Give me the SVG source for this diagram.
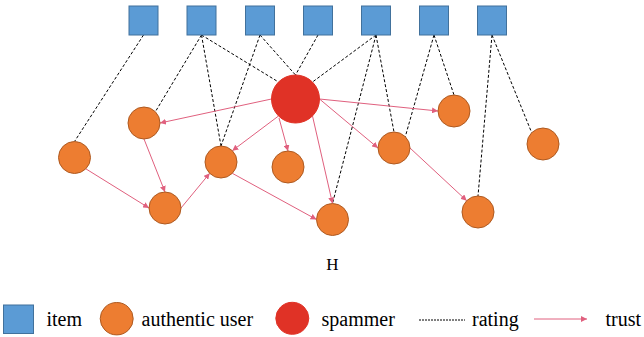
<svg xmlns="http://www.w3.org/2000/svg" width="644" height="337" viewBox="0 0 644 337">
<style>
.item{fill:#5b9bd5;stroke:#41719c;stroke-width:1}
.user{fill:#ed7d31;stroke:#ae5a21;stroke-width:1}
.spam{fill:#e03226;stroke:#e03226;stroke-width:1}
.rating{stroke:#000;stroke-width:1;stroke-dasharray:3 2;fill:none}
.trust{stroke:#e0607e;stroke-width:1;fill:none;marker-end:url(#ah)}
.lbl{font-family:"Liberation Serif","Times New Roman",serif;font-size:20px;fill:#000}
</style>
<defs>
<marker id="ah" markerWidth="7" markerHeight="6" refX="6" refY="3" orient="auto" markerUnits="userSpaceOnUse">
<path d="M0,0 L6,3 L0,6 Z" fill="#e0607e"/>
</marker>
</defs>
<g id="connectors">
<line class="rating" x1="143.5" y1="35" x2="74.5" y2="141.5"/>
<line class="rating" x1="201.5" y1="35" x2="155.5" y2="111.5"/>
<line class="rating" x1="201.5" y1="35" x2="221" y2="146"/>
<line class="rating" x1="260" y1="35" x2="221" y2="146"/>
<line class="rating" x1="201.5" y1="35" x2="278.5" y2="82"/>
<line class="rating" x1="260" y1="35" x2="295.5" y2="75"/>
<line class="rating" x1="318" y1="35" x2="295.5" y2="75"/>
<line class="rating" x1="376" y1="35" x2="312.5" y2="82"/>
<line class="rating" x1="376" y1="35" x2="332.5" y2="203.5"/>
<line class="rating" x1="376" y1="35" x2="394" y2="132"/>
<line class="rating" x1="434" y1="35" x2="405.3" y2="136.7"/>
<line class="rating" x1="434" y1="35" x2="454" y2="95"/>
<line class="rating" x1="492" y1="35" x2="478" y2="196"/>
<line class="rating" x1="492" y1="35" x2="531.7" y2="132.7"/>
<line class="trust" x1="271.5" y1="99" x2="160" y2="123"/>
<line class="trust" x1="278.5" y1="116" x2="232.3" y2="150.7"/>
<line class="trust" x1="279" y1="118" x2="288" y2="151"/>
<line class="trust" x1="312.5" y1="116" x2="332.5" y2="203.5"/>
<line class="trust" x1="319.5" y1="99" x2="378" y2="148"/>
<line class="trust" x1="319.5" y1="99" x2="438" y2="111"/>
<line class="trust" x1="85.8" y1="168.8" x2="149" y2="208"/>
<line class="trust" x1="144" y1="139" x2="165" y2="192"/>
<line class="trust" x1="181" y1="208" x2="209.7" y2="173.3"/>
<line class="trust" x1="232.3" y1="173.3" x2="316.5" y2="219.5"/>
<line class="trust" x1="410" y1="148" x2="466.7" y2="200.7"/>
</g>
<g id="item1"><rect class="item" x="129" y="6" width="29" height="29"/></g>
<g id="item2"><rect class="item" x="187" y="6" width="29" height="29"/></g>
<g id="item3"><rect class="item" x="245.5" y="6" width="29" height="29"/></g>
<g id="item4"><rect class="item" x="303.5" y="6" width="29" height="29"/></g>
<g id="item5"><rect class="item" x="361.5" y="6" width="29" height="29"/></g>
<g id="item6"><rect class="item" x="419.5" y="6" width="29" height="29"/></g>
<g id="item7"><rect class="item" x="477.5" y="6" width="29" height="29"/></g>
<g id="spammer"><circle class="spam" cx="295.5" cy="99" r="24"/></g>
<g id="userA"><circle class="user" cx="74.5" cy="157.5" r="16"/></g>
<g id="userB"><circle class="user" cx="144" cy="123" r="16"/></g>
<g id="userC"><circle class="user" cx="165" cy="208" r="16"/></g>
<g id="userD"><circle class="user" cx="221" cy="162" r="16"/></g>
<g id="userE"><circle class="user" cx="288" cy="167" r="16"/></g>
<g id="userF"><circle class="user" cx="332.5" cy="219.5" r="16"/></g>
<g id="userG"><circle class="user" cx="394" cy="148" r="16"/></g>
<g id="userH"><circle class="user" cx="454" cy="111" r="16"/></g>
<g id="userI"><circle class="user" cx="543" cy="144" r="16"/></g>
<g id="userJ"><circle class="user" cx="478" cy="212" r="16"/></g>
<g id="title"><text class="lbl" x="332.5" y="270" text-anchor="middle" style="font-size:17px">H</text></g>
<g id="legend">
<rect class="item" x="3.5" y="305" width="30" height="28.5"/>
<text class="lbl" x="46.5" y="326">item</text>
<ellipse class="user" cx="116.7" cy="318.7" rx="16.5" ry="16.2"/>
<text class="lbl" x="141.5" y="326">authentic user</text>
<ellipse class="spam" cx="292.3" cy="318.3" rx="16.5" ry="16"/>
<text class="lbl" x="321.5" y="326">spammer</text>
<line class="rating" x1="419" y1="320" x2="465" y2="320" style="stroke-dasharray:2 1"/>
<text class="lbl" x="472" y="326">rating</text>
<line class="trust" x1="534" y1="319" x2="587" y2="319"/>
<text class="lbl" x="605.5" y="326">trust</text>
</g>
</svg>
